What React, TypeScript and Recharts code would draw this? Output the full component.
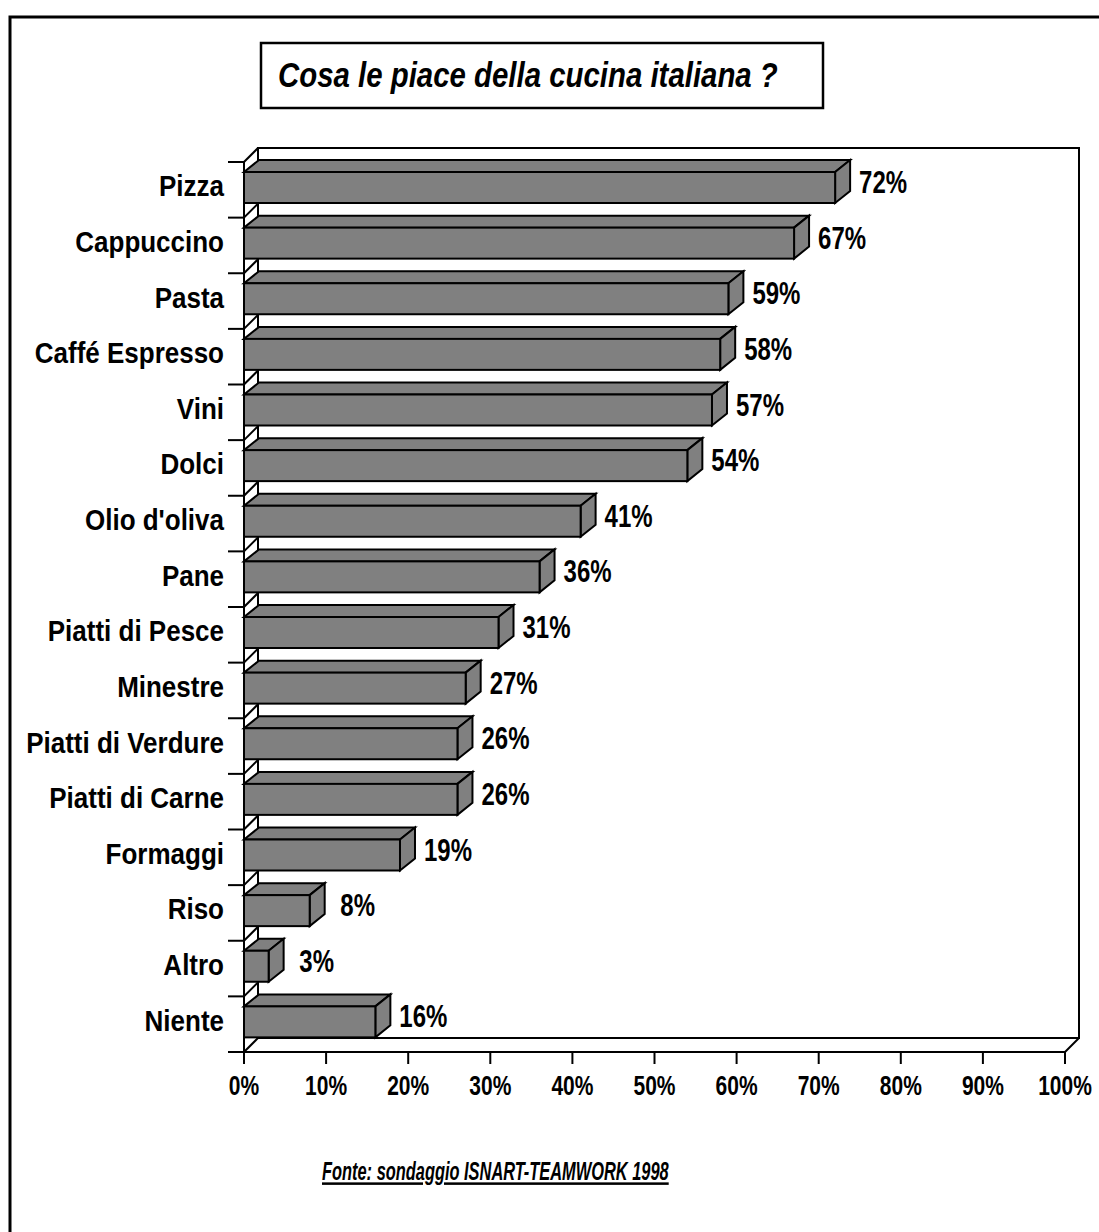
import React from "react"
import { Bar, BarChart, XAxis, YAxis, LabelList } from "recharts"

const categories = [
    "Pizza",
    "Cappuccino",
    "Pasta",
    "Caffé Espresso",
    "Vini",
    "Dolci",
    "Olio d'oliva",
    "Pane",
    "Piatti di Pesce",
    "Minestre",
    "Piatti di Verdure",
    "Piatti di Carne",
    "Formaggi",
    "Riso",
    "Altro",
    "Niente",
]
const values = [72, 67, 59, 58, 57, 54, 41, 36, 31, 27, 26, 26, 19, 8, 3, 16]
const xTicks = [0, 10, 20, 30, 40, 50, 60, 70, 80, 90, 100]

const data = categories.map((name, i) => ({ name, value: values[i] }))

const W = 1099
const H = 1232
// plot area (front plane) and the 3d depth of the walls
const PLOT = { left: 244, top: 162, right: 1065, bottom: 1052 }
const WALL = 14
const BAR_DX = 15
const BAR_DY = 12
const FONT = "'Liberation Sans', Arial, Helvetica, sans-serif"

function ScaledText({ x, y, anchor = "start", size, sy, italic = false, underline = false, children }: any) {
    return (
        <text
            transform={`translate(${x} ${y}) scale(1 ${sy})`}
            x={0}
            y={0}
            textAnchor={anchor}
            fontSize={size}
            fontWeight="bold"
            fontStyle={italic ? "italic" : "normal"}
            fontFamily={FONT}
            textDecoration={underline ? "underline" : undefined}
            fill="#000"
        >
            {children}
        </text>
    )
}

function Bar3D(props: any) {
    const { x, width, height } = props
    if (width == null || width <= 0) return null
    const y = props.y - 2
    const w = width
    const h = height
    const top = `${x},${y} ${x + BAR_DX},${y - BAR_DY} ${x + w + BAR_DX},${y - BAR_DY} ${x + w},${y}`
    const side = `${x + w},${y} ${x + w + BAR_DX},${y - BAR_DY} ${x + w + BAR_DX},${y + h - BAR_DY} ${x + w},${y + h}`
    return (
        <g stroke="#000" strokeWidth={2} fill="#808080">
            <polygon points={top} />
            <polygon points={side} />
            <rect x={x} y={y} width={w} height={h} />
        </g>
    )
}

function ValueLabel(props: any) {
    const { x, y, width, height, value } = props
    return (
        <ScaledText x={x + width + 48} y={y + height / 2 + 3.5} anchor="middle" size={24} sy={1.33}>
            {`${value}%`}
        </ScaledText>
    )
}

function CategoryTick(props: any) {
    const { y, payload } = props
    return (
        <ScaledText x={PLOT.left - 20} y={y + 6.5} anchor="end" size={26} sy={1.16}>
            {payload.value}
        </ScaledText>
    )
}

function PercentTick(props: any) {
    const { x, payload } = props
    return (
        <ScaledText x={x} y={PLOT.bottom + 43} anchor="middle" size={21} sy={1.35}>
            {`${payload.value}%`}
        </ScaledText>
    )
}

// back wall, left wall, category ticks, title and source
function Backdrop() {
    const band = (PLOT.bottom - PLOT.top) / categories.length
    const bounds = Array.from({ length: categories.length + 1 }, (_, i) => PLOT.top + i * band)
    return (
        <svg width={W} height={H} style={{ position: "absolute", left: 0, top: 0 }}>
            <rect x={0} y={0} width={W} height={H} fill="#fff" />
            <rect x={10} y={17} width={W + 20} height={H + 20} fill="none" stroke="#000" strokeWidth={3} />
            <rect x={261} y={43} width={562} height={65} fill="none" stroke="#000" strokeWidth={2.5} />
            <ScaledText x={278} y={87} size={29.4} sy={1.22} italic>
                Cosa le piace della cucina italiana ?
            </ScaledText>
            <g stroke="#000" strokeWidth={2} fill="none">
                <rect
                    x={PLOT.left + WALL}
                    y={PLOT.top - WALL}
                    width={PLOT.right - PLOT.left}
                    height={PLOT.bottom - PLOT.top}
                />
                <line x1={PLOT.right} y1={PLOT.bottom} x2={PLOT.right + WALL} y2={PLOT.bottom - WALL} />
                {bounds.map((b, i) => (
                    <g key={i}>
                        <line x1={PLOT.left} y1={b} x2={PLOT.left + WALL} y2={b - WALL} />
                        <line x1={PLOT.left - 16} y1={b} x2={PLOT.left} y2={b} />
                    </g>
                ))}
            </g>
            <ScaledText x={322} y={1180} size={16.4} sy={1.53} italic underline>
                Fonte: sondaggio ISNART-TEAMWORK 1998
            </ScaledText>
        </svg>
    )
}

export default function App() {
    return (
        <div style={{ position: "absolute", left: 0, top: 0, width: W, height: H, background: "#fff" }}>
            <Backdrop />
            <div style={{ position: "absolute", left: 0, top: 0 }}>
                <BarChart
                    width={W}
                    height={H}
                    data={data}
                    layout="vertical"
                    margin={{ top: PLOT.top, right: W - PLOT.right, bottom: 140, left: 8 }}
                >
                    <XAxis
                        type="number"
                        domain={[0, 100]}
                        ticks={xTicks}
                        height={H - 140 - PLOT.bottom}
                        tickSize={12}
                        axisLine={{ stroke: "#000", strokeWidth: 2 }}
                        tickLine={{ stroke: "#000", strokeWidth: 2 }}
                        tick={<PercentTick />}
                        interval={0}
                    />
                    <YAxis
                        type="category"
                        dataKey="name"
                        width={PLOT.left - 8}
                        axisLine={{ stroke: "#000", strokeWidth: 2 }}
                        tickLine={false}
                        tick={<CategoryTick />}
                        interval={0}
                    />
                    <Bar dataKey="value" barSize={31} shape={<Bar3D />} isAnimationActive={false}>
                        <LabelList dataKey="value" content={<ValueLabel />} />
                    </Bar>
                </BarChart>
            </div>
        </div>
    )
}
